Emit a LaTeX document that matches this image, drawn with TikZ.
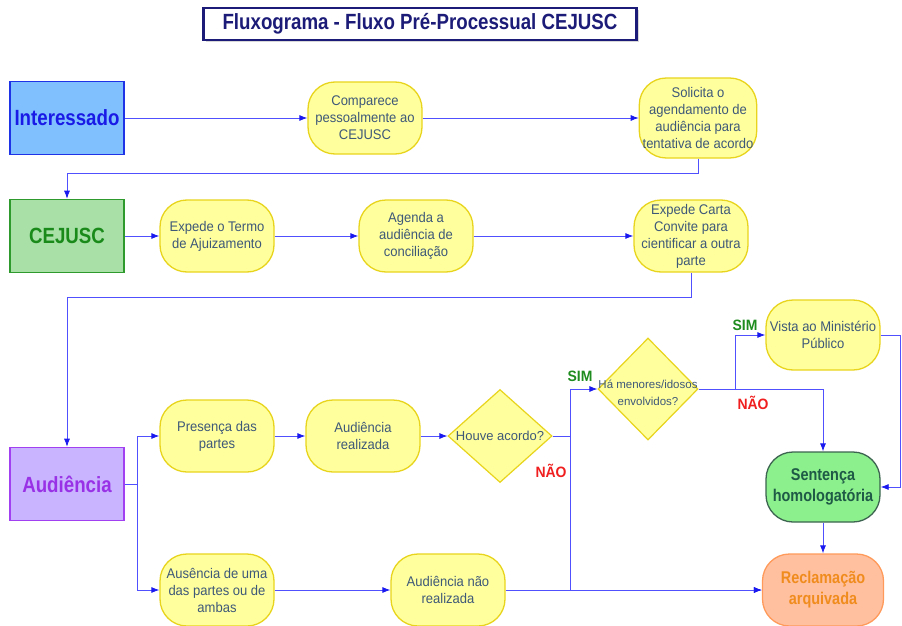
\documentclass[tikz,border=0pt]{standalone}
\usepackage{fontspec}
\setmainfont{Liberation Sans}
\newfontfamily\estreita{Liberation Sans}[FakeStretch=0.85]
\newfontfamily\media{Liberation Sans}[FakeStretch=0.93]
\usetikzlibrary{positioning}
\usetikzlibrary{shapes.geometric,arrows.meta,shadows}

\definecolor{linha}{HTML}{5050FF}
\definecolor{ponta}{HTML}{1A1AF0}
\definecolor{marinho}{HTML}{1C1C78}
\definecolor{amarelo}{HTML}{E8D41C}
\definecolor{fundo}{HTML}{FFFF9E}
\definecolor{textoazul}{HTML}{3E5878}
\definecolor{azulborda}{HTML}{1E32E6}
\definecolor{azulfundo}{HTML}{80C0FF}
\definecolor{azultexto}{HTML}{1A1AE6}
\definecolor{verdeborda}{HTML}{2E9A2E}
\definecolor{verdefundo}{HTML}{A8E0A8}
\definecolor{verdetexto}{HTML}{1A8A1A}
\definecolor{roxoborda}{HTML}{A040F0}
\definecolor{roxofundo}{HTML}{C8B4FF}
\definecolor{roxotexto}{HTML}{9932E6}
\definecolor{sentborda}{HTML}{3C6450}
\definecolor{sentfundo}{HTML}{8CF08C}
\definecolor{senttexto}{HTML}{1E5A46}
\definecolor{laranjaborda}{HTML}{FF9A5A}
\definecolor{laranjafundo}{HTML}{FFC0A0}
\definecolor{laranjatexto}{HTML}{F08C1E}
\definecolor{simcor}{HTML}{1E8C1E}
\definecolor{naocor}{HTML}{F01E1E}

\begin{document}
\begin{tikzpicture}[x=1pt,y=-1pt,
  actor/.style={draw,line width=1.6pt,minimum width=114pt,minimum height=73pt,
    font=\estreita\fontsize{22}{24}\selectfont\bfseries},
  passo/.style={draw=amarelo,fill=fundo,line width=1.3pt,rounded corners=27pt,
    minimum width=114pt,minimum height=72pt,align=center,text=textoazul,
    font=\media\fontsize{14}{17}\selectfont},
  decisao/.style={diamond,draw=amarelo,fill=fundo,line width=1.2pt,inner sep=0pt},
  pergunta/.style={align=center,text=textoazul,inner sep=0pt},
  seta/.style={draw=linha,line width=0.8pt,-{Latex[length=8pt,width=6pt,color=ponta]}},
  sim/.style={text=simcor,font=\media\fontsize{15}{17}\selectfont\bfseries},
  nao/.style={text=naocor,font=\media\fontsize{15}{17}\selectfont\bfseries}]
\useasboundingbox[fill=white] (0,0) rectangle (902,626);

% titulo
\node[draw=marinho,line width=2.4pt,fill=white,drop shadow={shadow xshift=2pt,shadow yshift=-2pt,fill=gray!60},
  minimum width=433pt,minimum height=32pt,text=marinho,font=\estreita\fontsize{22}{24}\selectfont\bfseries]
  (titulo) at (420,24) {Fluxograma - Fluxo Pré-Processual CEJUSC};

% atores
\node[actor,draw=azulborda,fill=azulfundo,text=azultexto] (interessado) at (67,118) {Interessado};
\node[actor,draw=verdeborda,fill=verdefundo,text=verdetexto] (cejusc) at (67,236) {CEJUSC};
\node[actor,draw=roxoborda,fill=roxofundo,text=roxotexto] (audiencia) at (67,484) {Audiência};

% passos
\node[passo] (comparece) at (365,118) {Comparece\\pessoalmente ao\\CEJUSC};
\node[passo,minimum height=80pt] (solicita) at (698,118) {Solicita o\\agendamento de\\audiência para\\tentativa de acordo};
\node[passo] (termo) at (217,236) {Expede o Termo\\de Ajuizamento};
\node[passo] (agenda) at (416,236) {Agenda a\\audiência de\\conciliação};
\node[passo] (carta) at (691,236) {Expede Carta\\Convite para\\cientificar a outra\\parte};
\node[passo] (presenca) at (217,436) {Presença das\\partes};
\node[passo] (realizada) at (363,436) {Audiência\\realizada};
\node[passo] (ausencia) at (217,590) {Ausência de uma\\das partes ou de\\ambas};
\node[passo] (naorealizada) at (448,590) {Audiência não\\realizada};
\node[passo,minimum height=70pt] (vista) at (823,335) {Vista ao Ministério\\Público};
\node[passo,draw=sentborda,fill=sentfundo,text=senttexto,minimum height=70pt,
  font=\estreita\fontsize{17}{21}\selectfont\bfseries] (sentenca) at (823,487) {Sentença\\homologatória};
\node[passo,draw=laranjaborda,fill=laranjafundo,text=laranjatexto,minimum width=121pt,
  font=\estreita\fontsize{17}{21}\selectfont\bfseries] (reclamacao) at (823,590) {Reclamação\\arquivada};

% decisoes
\node[decisao,minimum width=104pt,minimum height=93pt] (acordo) at (500,436) {};
\node[pergunta,font=\fontsize{13}{15}\selectfont] (acordotxt) at (acordo) {Houve acordo?};
\node[decisao,minimum width=100pt,minimum height=102pt] (menores) at (648,389) {};
\node[pergunta,font=\fontsize{11.5}{17}\selectfont] (menorestxt) at ([yshift=-4pt]menores) {Há menores/idosos\\envolvidos?};

% rotulos
\node[sim] (sim1) at (580,376) {SIM};
\node[nao] (nao1) at (551,471) {NÃO};
\node[sim] (sim2) at (745,325) {SIM};
\node[nao] (nao2) at (753,403) {NÃO};

% ligacoes
\draw[seta] (interessado) -- (comparece);
\draw[seta] (comparece) -- (solicita);
\draw[seta] (solicita.south) -- ++(0,15) -| (cejusc.north);
\draw[seta] (cejusc) -- (termo);
\draw[seta] (termo) -- (agenda);
\draw[seta] (agenda) -- (carta);
\draw[seta] (carta.south) -- ++(0,25) -| (audiencia.north);
\draw[seta] (audiencia.east) -- ++(13,0) |- (presenca.west);
\draw[seta] (audiencia.east) -- ++(13,0) |- (ausencia.west);
\draw[seta] (presenca) -- (realizada);
\draw[seta] (realizada) -- (acordo);
\draw[seta] (acordo.east) -- ++(18,0) |- (menores.west);
\draw[seta] (acordo.east) -- ++(18,0) |- (reclamacao.west);
\draw[seta] (ausencia) -- (naorealizada);
\draw[seta] (naorealizada) -- (reclamacao);
\draw[seta] (menores.east) -- ++(37,0) |- (vista.west);
\draw[seta] (menores.east) -| (sentenca.north);
\draw[seta] (vista.east) -- ++(20,0) |- (sentenca.east);
\draw[seta] (sentenca) -- (reclamacao);
\end{tikzpicture}
\end{document}
